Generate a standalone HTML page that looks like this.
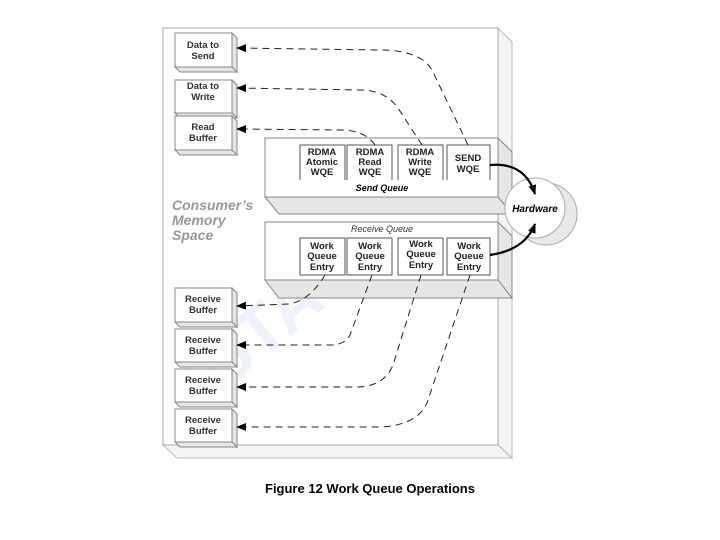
<!DOCTYPE html>
<html><head><style>body{margin:0;background:#fff}svg{display:block}</style></head><body>
<svg width="720" height="540" viewBox="0 0 720 540" xmlns="http://www.w3.org/2000/svg" font-family="Liberation Sans, sans-serif">
<defs>
<marker id="a" markerWidth="10" markerHeight="8" refX="9" refY="4" orient="auto" markerUnits="userSpaceOnUse"><path d="M0,0 L10,4 L0,8 z" fill="#000"/></marker>
</defs>
<polygon points="498,28 512,42 512,458 498,445" fill="#f4f4f4" stroke="#bbb"/>
<polygon points="163,445 498,445 512,458 177,458" fill="#f4f4f4" stroke="#bbb"/>
<rect x="163" y="28" width="335" height="417" fill="#fff" stroke="#aaa"/>
<text x="160" y="380" font-size="70" font-weight="bold" fill="#eef2fb" transform="rotate(-40 220 330)">IBTA</text>
<g stroke="#888" fill="#e6e6e6">
<polygon points="232,33 237,38 237,72 232,67"/><polygon points="175,67 232,67 237,72 180,72"/>
<polygon points="232,80 237,85 237,118 232,113"/><polygon points="175,113 232,113 237,118 180,118"/>
<polygon points="232,116 237,121 237,155 232,150"/><polygon points="175,150 232,150 237,155 180,155"/>
<polygon points="232,288 237,293 237,327 232,322"/><polygon points="175,322 232,322 237,327 180,327"/>
<polygon points="232,329 237,334 237,367 232,362"/><polygon points="175,362 232,362 237,367 180,367"/>
<polygon points="232,369 237,374 237,407 232,402"/><polygon points="175,402 232,402 237,407 180,407"/>
<polygon points="232,409 237,414 237,447 232,442"/><polygon points="175,442 232,442 237,447 180,447"/>
</g>
<g fill="#fff" stroke="#888">
<rect x="175" y="33" width="57" height="34"/><rect x="175" y="80" width="57" height="33"/><rect x="175" y="116" width="57" height="34"/>
<rect x="175" y="288" width="57" height="34"/><rect x="175" y="329" width="57" height="33"/><rect x="175" y="369" width="57" height="33"/><rect x="175" y="409" width="57" height="33"/>
</g>
<g font-size="9.5" font-weight="bold" text-anchor="middle" fill="#333">
<text x="203" y="48">Data to</text><text x="203" y="59">Send</text>
<text x="203" y="89">Data to</text><text x="203" y="100">Write</text>
<text x="203" y="130">Read</text><text x="203" y="141">Buffer</text>
<text x="203" y="302">Receive</text><text x="203" y="313">Buffer</text>
<text x="203" y="343">Receive</text><text x="203" y="354">Buffer</text>
<text x="203" y="383">Receive</text><text x="203" y="394">Buffer</text>
<text x="203" y="423">Receive</text><text x="203" y="434">Buffer</text>
</g>
<text x="172" y="210" font-size="14" font-weight="bold" font-style="italic" fill="#999">Consumer’s</text>
<text x="172" y="225" font-size="14" font-weight="bold" font-style="italic" fill="#999">Memory</text>
<text x="172" y="240" font-size="14" font-weight="bold" font-style="italic" fill="#999">Space</text>
<polygon points="498,138 512,152 512,214 498,197" fill="#e6e6e6" stroke="#888"/>
<polygon points="265,197 498,197 512,214 279,214" fill="#e6e6e6" stroke="#888"/>
<rect x="265" y="138" width="233" height="59" fill="#fff" stroke="#888"/>
<polygon points="498,222 512,236 512,298 498,280" fill="#e6e6e6" stroke="#888"/>
<polygon points="265,280 498,280 512,298 279,298" fill="#e6e6e6" stroke="#888"/>
<rect x="265" y="222" width="233" height="58" fill="#fff" stroke="#888"/>
<circle cx="546" cy="214" r="31" fill="#e8e8e8" stroke="#aaa"/>
<circle cx="535" cy="208" r="30" fill="#fff" stroke="#aaa"/>
<text x="535" y="212" font-size="10" font-weight="bold" font-style="italic" text-anchor="middle">Hardware</text>
<g fill="#fff" stroke="#555">
<path d="M300,180V145H345V180M347,180V145H392V180M398,180V145H443V180M447,180V145H490V180"/>
<rect x="300" y="238" width="45" height="37"/><rect x="347" y="238" width="45" height="37"/><rect x="398" y="238" width="45" height="37"/><rect x="447" y="238" width="43" height="37"/>
</g>
<g font-size="9.5" font-weight="bold" text-anchor="middle" fill="#222">
<text x="322" y="155">RDMA</text><text x="322" y="165">Atomic</text><text x="322" y="175">WQE</text>
<text x="370" y="155">RDMA</text><text x="370" y="165">Read</text><text x="370" y="175">WQE</text>
<text x="420" y="155">RDMA</text><text x="420" y="165">Write</text><text x="420" y="175">WQE</text>
<text x="468" y="161">SEND</text><text x="468" y="172">WQE</text>
<text x="322" y="249">Work</text><text x="322" y="259">Queue</text><text x="322" y="270">Entry</text>
<text x="370" y="249">Work</text><text x="370" y="259">Queue</text><text x="370" y="270">Entry</text>
<text x="421" y="247">Work</text><text x="421" y="257">Queue</text><text x="421" y="268">Entry</text>
<text x="469" y="249">Work</text><text x="469" y="259">Queue</text><text x="469" y="270">Entry</text>
</g>
<text x="382" y="191" font-size="9" font-weight="bold" font-style="italic" text-anchor="middle">Send Queue</text>
<text x="382" y="232" font-size="9" font-style="italic" text-anchor="middle" fill="#333">Receive Queue</text>
<g fill="none" stroke="#222" stroke-width="1" stroke-dasharray="7,5" marker-end="url(#a)">
<path d="M468,145 L432,70 Q420,50 380,50 L237,48"/>
<path d="M422,145 L398,108 Q385,90 360,90 L237,88"/>
<path d="M375,145 Q365,130 340,130 L237,129"/>
<path d="M325,275 Q310,300 290,304 L237,306"/>
<path d="M372,275 L350,335 Q345,345 330,345 L237,345"/>
<path d="M421,275 L393,365 Q385,385 360,387 L237,387"/>
<path d="M470,275 L428,400 Q420,425 380,427 L237,427"/>
</g>
<g fill="none" stroke="#000" stroke-width="2.2" marker-end="url(#a)">
<path d="M490,165 Q525,162 535,194"/>
<path d="M490,255 Q525,250 535,224"/>
</g>
<text x="370" y="493" font-size="13" font-weight="bold" text-anchor="middle">Figure 12  Work Queue Operations</text>
</svg>
</body></html>
